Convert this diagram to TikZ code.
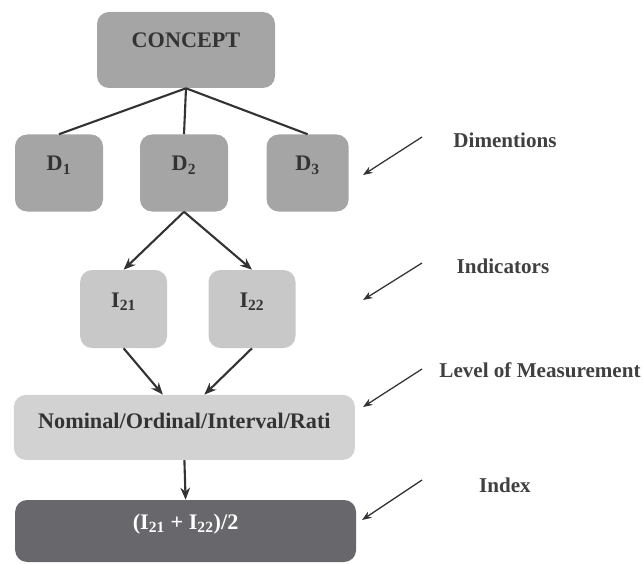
\documentclass[tikz,border=0pt]{standalone}
\usepackage{fontspec}
\setmainfont{Liberation Serif}
\usepackage{xcolor}
\usetikzlibrary{arrows.meta}
\definecolor{boxdark}{HTML}{A5A5A5}
\definecolor{boxmid}{HTML}{C8C8C8}
\definecolor{boxlight}{HTML}{D2D2D2}
\definecolor{boxindex}{HTML}{68686C}
\definecolor{lnk}{HTML}{333333}
\tikzset{
  box/.style={rectangle,rounded corners=0.3cm,inner sep=0pt,text height=0.35cm,text depth=0.45cm,
    font=\fontsize{15.8}{18}\selectfont\bfseries,text=black!80},
  tie/.style={lnk,line width=1.5pt},
  flow/.style={lnk,line width=1.5pt,-{Stealth[length=3mm,width=2.4mm]}},
  hint/.style={lnk,line width=0.9pt,-{Stealth[length=2.4mm,width=1.8mm]}},
  tag/.style={font=\fontsize{15}{18}\selectfont\bfseries,text=black!75}
}
\begin{document}
\begin{tikzpicture}
\useasboundingbox (0,0) rectangle (16.075,14.075);
\node[box,fill=boxdark,minimum width=4.45cm,minimum height=1.9cm] (concept) at (4.65,12.825) {CONCEPT};
\node[box,fill=boxdark,minimum width=2.2cm,minimum height=1.925cm] (d1) at (1.475,9.75) {D\textsubscript{1}};
\node[box,fill=boxdark,minimum width=2.2cm,minimum height=1.925cm] (d2) at (4.6,9.75) {D\textsubscript{2}};
\node[box,fill=boxdark,minimum width=2.05cm,minimum height=1.925cm] (d3) at (7.69,9.75) {D\textsubscript{3}};
\node[box,fill=boxmid,minimum width=2.175cm,minimum height=1.95cm] (i21) at (3.09,6.35) {I\textsubscript{21}};
\node[box,fill=boxmid,minimum width=2.175cm,minimum height=1.95cm] (i22) at (6.3,6.35) {I\textsubscript{22}};
\node[box,fill=boxlight,minimum width=8.525cm,minimum height=1.625cm,text depth=0.3cm] (level) at (4.61,3.39) {Nominal/Ordinal/Interval/Rati};
\node[box,fill=boxindex,text=white,minimum width=8.525cm,minimum height=1.55cm] (index) at (4.64,0.8) {(I\textsubscript{21} + I\textsubscript{22})/2};

\draw[tie] (concept.south) -- (d1.north);
\draw[tie] (concept.south) -- (d2.north);
\draw[tie] (concept.south) -- (d3.north);
\draw[flow] (d2.south) -- (i21.north);
\draw[flow] (d2.south) -- (i22.north);
\draw[flow] (i21.south) -- ([xshift=-0.54cm]level.north);
\draw[flow] (i22.south) -- ([xshift=0.5cm]level.north);
\draw[flow] (level.south) -- (index.north);

% labels on the right
\node[tag] (tdim) at (12.625,10.575) {Dimentions};
\node[tag] (tind) at (12.575,7.425) {Indicators};
\node[tag] (tlev) at (13.5,4.825) {Level of Measurement};
\node[tag] (tidx) at (12.625,1.95) {Index};
\coordinate (sdim) at (10.55,10.65);  \coordinate (edim) at (9.075,9.7);
\coordinate (sind) at (10.55,7.5);    \coordinate (eind) at (9.075,6.575);
\coordinate (slev) at (10.55,4.85);   \coordinate (elev) at (9.075,3.9);
\coordinate (sidx) at (10.55,2.075);  \coordinate (eidx) at (9.05,1.075);
\draw[hint] (sdim) -- (edim);
\draw[hint] (sind) -- (eind);
\draw[hint] (slev) -- (elev);
\draw[hint] (sidx) -- (eidx);
\end{tikzpicture}
\end{document}
